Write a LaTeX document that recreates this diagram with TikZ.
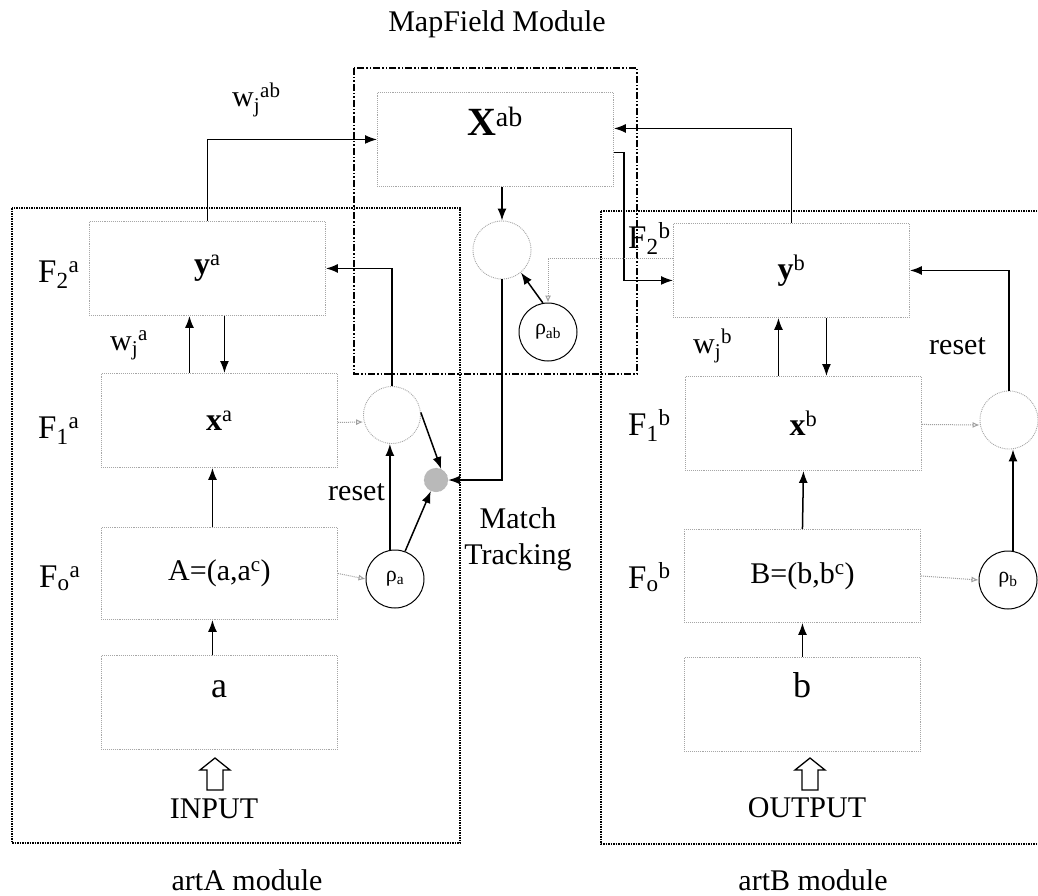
\documentclass[tikz,border=0pt]{standalone}
\usepackage{fontspec}
\setmainfont{Liberation Serif}
\usetikzlibrary{arrows.meta,calc}
\newcommand\myfs[1]{\fontsize{#1}{#1}\selectfont}
\begin{document}
\begin{tikzpicture}[x=1pt,y=-1pt,
  layer/.style={draw=gray!70, densely dotted, line width=0.9pt, minimum width=236pt, minimum height=94pt, inner sep=0pt, anchor=north west, font=\myfs{30}},
  modbox/.style={draw=black, densely dotted, line width=1.5pt},
  mapbox/.style={draw=black, line width=1.3pt, dash pattern=on 7pt off 2pt on 1.5pt off 2pt on 1.5pt off 2pt},
  arr/.style={-{Latex[length=12pt,width=9pt]}, line width=1.5pt},
  garr/.style={draw=gray!75, densely dotted, line width=1pt, -{Latex[length=7pt,width=6pt,open]}},
  gcirc/.style={circle, draw=gray!70, densely dotted, line width=0.9pt, minimum size=57pt, inner sep=0pt},
  rcirc/.style={circle, draw=black, line width=1pt, minimum size=58pt, inner sep=0pt, font=\myfs{22}},
  lab/.style={font=\myfs{30}, inner sep=0pt},
  flab/.style={font=\myfs{33}, inner sep=0pt, anchor=base west},
  hollow/.style={draw=black, line width=1.3pt, fill=white}
]
\useasboundingbox (0,0) rectangle (1038,896);
\fill[white] (0,0) rectangle (1038,896);

% module frames
\draw[modbox] (12,208) rectangle (460,843);
\draw[modbox] (601,211) rectangle (1046,844);
\draw[mapbox] (354,68) rectangle (637,374);

% titles
\node[lab, anchor=base] (tmap) at (497,32) {MapField Module};
\node[lab, anchor=base] (tarta) at (247,890) {artA module};
\node[lab, anchor=base] (tartb) at (813,890) {artB module};

% MapField
\node[layer, minimum height=94pt] (Xab) at (377,92) {};
\node[font=\myfs{40}, anchor=base, inner sep=0pt] (Xabt) at (495,136) {\textbf{X}\textsuperscript{ab}};
\node[gcirc, minimum size=58pt] (mfc) at (502,250) {};
\node[rcirc] (rab) at (548,332) {ρ\textsubscript{ab}};
\node[circle, fill=gray!55, draw=gray!70, densely dotted, minimum size=24pt, inner sep=0pt] (mt) at (436,480) {};

% artA layers
\node[layer] (ya) at (89,221) {\myfs{32}\textbf{y}\textsuperscript{a}};
\node[layer] (xa) at (101,373) {\myfs{32}\textbf{x}\textsuperscript{a}};
\node[layer, minimum height=92pt] (A) at (101,527) {A=(a,a\textsuperscript{c})};
\node[layer] (a) at (101,655) {};
\node[font=\myfs{36}, anchor=base, inner sep=0pt] (at) at (219,697) {a};
\node[gcirc] (resa) at (392,415) {};
\node[rcirc] (rhoa) at (395,579) {ρ\textsubscript{a}};

% artB layers
\node[layer] (yb) at (673,223) {\myfs{32}\textbf{y}\textsuperscript{b}};
\node[layer] (xb) at (685,376) {\myfs{32}\textbf{x}\textsuperscript{b}};
\node[layer, minimum height=93pt] (B) at (684,529) {B=(b,b\textsuperscript{c})};
\node[layer] (b) at (684,657) {};
\node[font=\myfs{36}, anchor=base, inner sep=0pt] (bt) at (802,697) {b};
\node[gcirc, minimum size=58pt] (resb) at (1009,420) {};
\node[rcirc] (rhob) at (1008,580) {ρ\textsubscript{b}};

% side labels
\node[flab] (F2a) at (38,282) {F\textsubscript{2}\textsuperscript{a}};
\node[flab] (F1a) at (38,438) {F\textsubscript{1}\textsuperscript{a}};
\node[flab] (F0a) at (39,587) {F\textsubscript{o}\textsuperscript{a}};
\node[flab] (F2b) at (628,248) {F\textsubscript{2}\textsuperscript{b}};
\node[flab] (F1b) at (628,435) {F\textsubscript{1}\textsuperscript{b}};
\node[flab] (F0b) at (628,588) {F\textsubscript{o}\textsuperscript{b}};
\node[lab, anchor=base west] (wja) at (110,350) {w\textsubscript{j}\textsuperscript{a}};
\node[lab, anchor=base west] (wjb) at (693,353) {w\textsubscript{j}\textsuperscript{b}};
\node[lab, anchor=base west] (wjab) at (232,107) {w\textsubscript{j}\textsuperscript{ab}};
\node[lab, anchor=base west] (reseta) at (328,500) {reset};
\node[lab, anchor=base west] (resetb) at (929,354) {reset};
\node[lab, anchor=base] (match) at (518,528) {Match};
\node[lab, anchor=base] (track) at (518,564) {Tracking};
\node[lab, anchor=base] (tin) at (214,818) {INPUT};
\node[lab, anchor=base] (tout) at (807,817) {OUTPUT};

% hollow arrows
\coordinate (hin) at (215,758);
\coordinate (hout) at (810,758);
\foreach \c in {hin,hout}{
  \draw[hollow] ($(\c)+(-8,32)$) -- ($(\c)+(-8,12)$) -- ($(\c)+(-15,12)$) -- (\c) -- ($(\c)+(15,12)$) -- ($(\c)+(8,12)$) -- ($(\c)+(8,32)$) -- cycle;
}

% connectors: mapfield
\draw[arr] (ya.north) |- (Xab.west);
\draw[arr] (yb.north) |- ($(Xab.east)+(0,-11)$);
\draw[arr] ($(Xab.east)+(0,13)$) -- ++(10,0) |- ($(yb.west)+(0,10)$);
\draw[arr] (mfc |- Xab.south) -- (mfc.north);
\draw[arr] (rab.100) -- (mfc.-50);
\draw[garr] ($(yb.west)+(0,-12)$) -| (rab.north);
\draw[arr] (mfc.south) |- (mt.east);

% connectors: artA
\coordinate (ua) at ($(xa.north)+(-30,0)$);
\coordinate (da) at ($(xa.north)+(5,0)$);
\draw[arr] (ua) -- (ua |- ya.south);
\draw[arr] (da |- ya.south) -- (da);
\coordinate (aa) at ($(A.north)+(-7,0)$);
\draw[arr] (aa) -- (aa |- xa.south);
\coordinate (ab) at ($(a.north)+(-7,0)$);
\draw[arr] (ab) -- (ab |- A.south);
\draw[garr] ($(xa.east)+(0,2)$) -- ($(resa.west)+(0,7)$);
\draw[arr] (resa.north) |- (ya.east);
\draw[arr] (rhoa.100) -- (rhoa.100 |- resa.south);
\draw[arr] (resa.5) -- (mt.65);
\draw[arr] (rhoa.70) -- (mt.-115);
\draw[garr] (A.east) -- (rhoa.west);

% connectors: artB
\coordinate (ub) at ($(xb.north)+(-25,0)$);
\coordinate (db) at ($(xb.north)+(23,0)$);
\draw[arr] (ub) -- (ub |- yb.south);
\draw[arr] (db |- yb.south) -- (db);
\draw[arr] (B.north) -- (xb.south);
\draw[arr] (b.north) -- (B.south);
\draw[garr] ($(xb.east)+(0,1)$) -- ($(resb.west)+(0,5)$);
\draw[arr] (resb.north) |- (yb.east);
\coordinate (rb) at ($(rhob.north)+(5,0)$);
\draw[arr] (rb) -- (rb |- resb.south);
\draw[garr] (B.east) -- (rhob.west);
\end{tikzpicture}
\end{document}
